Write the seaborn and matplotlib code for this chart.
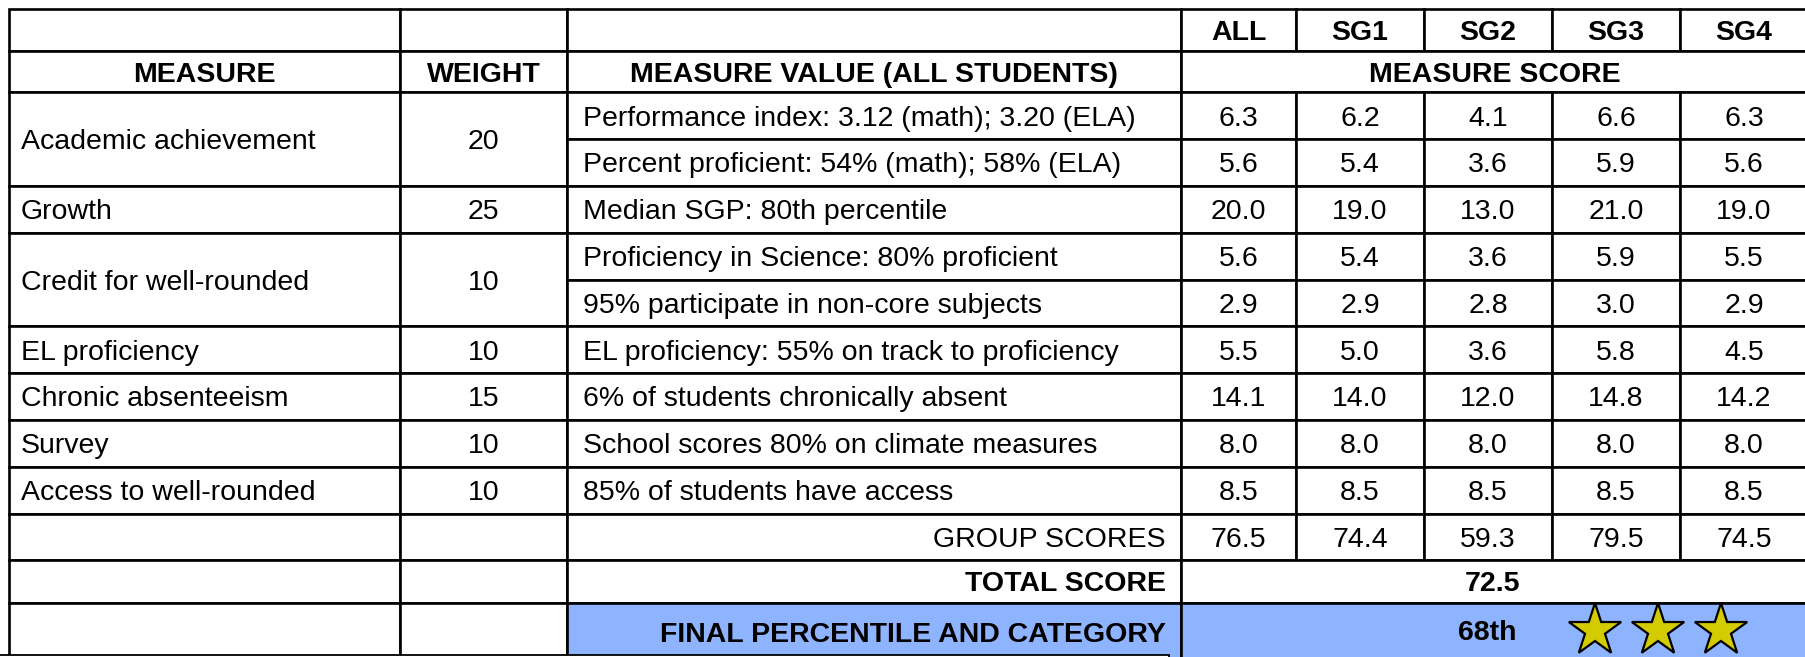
import numpy as np
import matplotlib
matplotlib.use("Agg")
import matplotlib.pyplot as plt
from matplotlib.patches import Rectangle, Polygon
import seaborn as sns

# ---------------- data ----------------
groups = ["ALL", "SG1", "SG2", "SG3", "SG4"]
measures = ["Academic achievement", "Growth", "Credit for well-rounded",
            "EL proficiency", "Chronic absenteeism", "Survey", "Access to well-rounded"]
weights = [20, 25, 10, 10, 15, 10, 10]
measure_span = [2, 1, 2, 1, 1, 1, 1]   # number of sub-rows each measure covers
measure_values = [
    "Performance index: 3.12 (math); 3.20 (ELA)",
    "Percent proficient: 54% (math); 58% (ELA)",
    "Median SGP: 80th percentile",
    "Proficiency in Science: 80% proficient",
    "95% participate in non-core subjects",
    "EL proficiency: 55% on track to proficiency",
    "6% of students chronically absent",
    "School scores 80% on climate measures",
    "85% of students have access",
]
score_all = [6.3, 5.6, 20.0, 5.6, 2.9, 5.5, 14.1, 8.0, 8.5]
score_sg1 = [6.2, 5.4, 19.0, 5.4, 2.9, 5.0, 14.0, 8.0, 8.5]
score_sg2 = [4.1, 3.6, 13.0, 3.6, 2.8, 3.6, 12.0, 8.0, 8.5]
score_sg3 = [6.6, 5.9, 21.0, 5.9, 3.0, 5.8, 14.8, 8.0, 8.5]
score_sg4 = [6.3, 5.6, 19.0, 5.5, 2.9, 4.5, 14.2, 8.0, 8.5]
group_scores = [76.5, 74.4, 59.3, 79.5, 74.5]
total_score = 72.5
final_percentile = "68th"
n_stars = 3

# ---------------- style ----------------
sns.set_theme(style="white")
plt.rcParams["font.family"] = ["Liberation Sans", "DejaVu Sans"]

W, H = 1806, 657
fig = plt.figure(figsize=(W / 100, H / 100), dpi=100)
ax = fig.add_axes([0, 0, 1, 1])
ax.set_xlim(0, W)
ax.set_ylim(H, 0)
ax.axis("off")

FS = 20.5
LW = 1.9
BLUE = "#8FB4FF"
STAR = "#D2CC00"

# layout
cx = [9, 400, 567, 1181, 1296, 1424, 1552, 1680, 1808]
hdr = [9, 51, 92.3]
rh = 46.8
n_sub = len(measure_values)
data_top = hdr[2]
rows_y = [data_top + i * rh for i in range(n_sub + 2)]  # incl. group scores row
tot_top = rows_y[-1]
tot_bot = 602.5
fin_bot = 662


def cell(x0, x1, y0, y1, fc="white"):
    ax.add_patch(Rectangle((x0, y0), x1 - x0, y1 - y0, facecolor=fc,
                           edgecolor="black", linewidth=LW, zorder=2))


def txt(x, y, s, ha="center", bold=False):
    ax.text(x, y, s, ha=ha, va="center_baseline", fontsize=FS,
            fontweight="bold" if bold else "normal", color="black", zorder=5)


# header row 0
cell(cx[0], cx[1], hdr[0], hdr[1])
cell(cx[1], cx[2], hdr[0], hdr[1])
cell(cx[2], cx[3], hdr[0], hdr[1])
for j, g in enumerate(groups):
    cell(cx[3 + j], cx[4 + j], hdr[0], hdr[1])
    txt((cx[3 + j] + cx[4 + j]) / 2, (hdr[0] + hdr[1]) / 2, g, bold=True)

# header row 1
ym = (hdr[1] + hdr[2]) / 2
cell(cx[0], cx[1], hdr[1], hdr[2]); txt((cx[0] + cx[1]) / 2, ym, "MEASURE", bold=True)
cell(cx[1], cx[2], hdr[1], hdr[2]); txt((cx[1] + cx[2]) / 2, ym, "WEIGHT", bold=True)
cell(cx[2], cx[3], hdr[1], hdr[2]); txt((cx[2] + cx[3]) / 2, ym, "MEASURE VALUE (ALL STUDENTS)", bold=True)
cell(cx[3], cx[8], hdr[1], hdr[2]); txt((cx[3] + cx[8]) / 2, ym, "MEASURE SCORE", bold=True)

# measure + weight (merged)
r = 0
for m, w, span in zip(measures, weights, measure_span):
    y0, y1 = rows_y[r], rows_y[r + span]
    cell(cx[0], cx[1], y0, y1)
    cell(cx[1], cx[2], y0, y1)
    txt(cx[0] + 12, (y0 + y1) / 2, m, ha="left")
    txt((cx[1] + cx[2]) / 2, (y0 + y1) / 2, str(w))
    r += span

# measure values and scores
scores = [score_all, score_sg1, score_sg2, score_sg3, score_sg4]
for i, mv in enumerate(measure_values):
    y0, y1 = rows_y[i], rows_y[i + 1]
    cell(cx[2], cx[3], y0, y1)
    txt(cx[2] + 16, (y0 + y1) / 2, mv, ha="left")
    for j in range(5):
        cell(cx[3 + j], cx[4 + j], y0, y1)
        txt((cx[3 + j] + cx[4 + j]) / 2, (y0 + y1) / 2, f"{scores[j][i]:.1f}")

# group scores row
y0, y1 = rows_y[n_sub], rows_y[n_sub + 1]
cell(cx[0], cx[1], y0, y1); cell(cx[1], cx[2], y0, y1); cell(cx[2], cx[3], y0, y1)
txt(cx[3] - 15, (y0 + y1) / 2, "GROUP SCORES", ha="right")
for j in range(5):
    cell(cx[3 + j], cx[4 + j], y0, y1)
    txt((cx[3 + j] + cx[4 + j]) / 2, (y0 + y1) / 2, f"{group_scores[j]:.1f}")

# total score row
cell(cx[0], cx[1], tot_top, tot_bot); cell(cx[1], cx[2], tot_top, tot_bot)
cell(cx[2], cx[3], tot_top, tot_bot)
txt(cx[3] - 15, (tot_top + tot_bot) / 2, "TOTAL SCORE", ha="right", bold=True)
cell(cx[3], cx[8], tot_top, tot_bot)
txt((cx[3] + cx[8]) / 2 - 2, (tot_top + tot_bot) / 2, f"{total_score:.1f}", bold=True)

# final row
fy = (tot_bot + fin_bot) / 2
cell(cx[0], cx[1], tot_bot, fin_bot); cell(cx[1], cx[2], tot_bot, fin_bot)
cell(cx[2], cx[3], tot_bot, fin_bot, fc=BLUE)
txt(cx[3] - 15, fy, "FINAL PERCENTILE AND CATEGORY", ha="right", bold=True)
cell(cx[3], cx[8], tot_bot, fin_bot, fc=BLUE)
txt(1487, fy - 2, final_percentile, bold=True)

# stars
R = 27.5
ri = R * 0.382
star_x0, star_dx = 1595, 63
for k in range(n_stars):
    sx, sy = star_x0 + k * star_dx, tot_bot + R + 0.5
    pts = []
    for t in range(10):
        a = -np.pi / 2 + t * np.pi / 5
        rr = R if t % 2 == 0 else ri
        pts.append((sx + rr * np.cos(a), sy + rr * np.sin(a)))
    ax.add_patch(Polygon(pts, closed=True, facecolor=STAR, edgecolor="black",
                         linewidth=1.6, zorder=6))

# overlapping box edge at the bottom left
ax.plot([0, 1169], [654.5, 654.5], color="black", lw=1.3, zorder=7)
ax.plot([1169, 1169], [654.5, 660], color="black", lw=1.3, zorder=7)
ax.add_patch(Rectangle((0, 655.2), 1169, 5, facecolor="white", edgecolor="none", zorder=6.5))

fig.savefig("out.png", dpi=100)
